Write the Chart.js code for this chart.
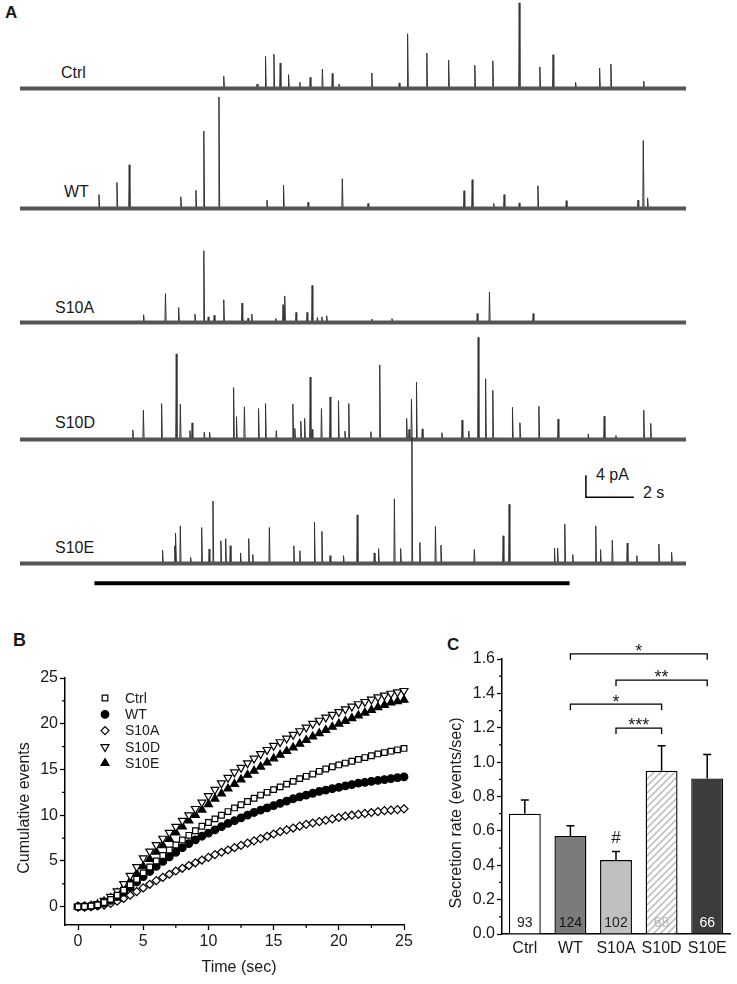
<!DOCTYPE html>
<html>
<head>
<meta charset="utf-8">
<script src="https://cdn.jsdelivr.net/npm/chart.js@4/dist/chart.umd.min.js"></script>
<style>
  body { margin: 0; background: #fff; width: 737px; height: 984px; position: relative; overflow: hidden;
         font-family: 'Liberation Sans', Arial, sans-serif; color: #1a1a1a; }
  canvas { position: absolute; }
  .lbl { position: absolute; font-size: 16px; line-height: 1; white-space: nowrap; }
  .panel { position: absolute; font-size: 17px; font-weight: bold; line-height: 1; }
</style>
</head>
<body>
<div class="panel" style="left:5px;top:4px;">A</div>
<div class="panel" style="left:13px;top:631px;font-size:18px;">B</div>
<div class="panel" style="left:447px;top:636px;">C</div>

<div class="lbl" style="left:61px;top:65px;">Ctrl</div>
<div class="lbl" style="left:64px;top:184px;">WT</div>
<div class="lbl" style="left:55px;top:300px;">S10A</div>
<div class="lbl" style="left:55px;top:415px;">S10D</div>
<div class="lbl" style="left:55px;top:540px;">S10E</div>
<div class="lbl" style="left:596px;top:467px;">4 pA</div>
<div class="lbl" style="left:643px;top:485px;">2 s</div>

<script>
const FONT = "'Liberation Sans', Arial, sans-serif";
const INK = '#1a1a1a';

// ---- panel A: amperometric spikes, [time (s), amplitude (pA)]
const TRACE_END = 27.75;
const CTRL_SPIKES = [[8.49,2.2],[9.88,0.8],[10.23,5.8],[10.58,6.2],[10.84,4.6],[11.19,2.5],[11.66,1.1],
  [12.09,2.0],[12.6,3.5],[13.01,2.7],[13.29,0.8],[14.66,2.8],[15.8,1.0],[16.15,9.9],[16.95,6.4],[17.86,5.1],
  [18.95,4.2],[19.7,5.0],[20.8,15.5],[21.66,3.9],[22.21,6.1],[23.15,1.1],[24.15,3.7],[24.62,4.4],[25.99,1.3]];
const WT_SPIKES = [[3.29,2.5],[4.04,4.7],[4.55,7.9],[6.7,2.1],[7.33,3.3],[7.66,14.0],[8.29,20.2],[10.29,1.5],
  [10.98,4.2],[12.0,1.1],[13.43,5.4],[14.5,0.9],[18.5,3.2],[18.84,5.2],[19.74,0.9],[20.17,2.5],[20.8,1.0],
  [21.58,4.1],[22.76,1.4],[25.75,1.5],[25.97,12.3],[26.15,1.9]];
const S10A_SPIKES = [[5.15,1.4],[6.06,5.2],[6.61,2.7],[7.29,1.5],[7.66,13.0],[7.84,1.0],[8.09,1.3],[8.49,4.1],
  [9.25,3.5],[9.5,0.8],[9.66,1.5],[10.66,0.7],[10.96,3.2],[11.03,4.8],[11.5,1.8],[11.96,1.8],[12.17,6.7],
  [12.39,0.9],[12.58,1.0],[12.78,1.2],[14.66,0.6],[15.5,0.7],[19.05,1.6],[19.56,5.5],[21.38,1.6]];
const S10D_SPIKES = [[4.7,1.7],[5.14,5.3],[5.9,6.5],[6.51,15.5],[6.68,6.4],[7.08,1.6],[7.17,3.0],[7.68,1.3],
  [7.9,1.3],[8.9,9.4],[9.02,4.1],[9.35,5.9],[9.94,5.6],[10.23,6.5],[10.68,1.6],[11.37,6.4],[11.45,2.0],
  [11.7,3.3],[11.86,3.8],[12.09,11.3],[12.17,1.8],[12.56,5.6],[12.92,7.7],[13.27,7.0],[13.54,1.5],[13.7,6.5],
  [14.62,1.4],[14.99,13.5],[16.11,3.8],[16.21,1.8],[16.31,7.3],[16.52,10.4],[16.76,1.9],[17.58,1.2],
  [18.42,3.5],[18.7,1.5],[19.09,18.5],[19.4,11.0],[19.7,8.9],[20.52,5.8],[20.83,3.0],[21.62,6.0],
  [22.42,3.7],[23.68,1.0],[24.34,4.2],[24.83,0.7],[25.99,5.3],[26.28,2.9]];
const S10E_SPIKES = [[5.94,2.4],[6.45,3.2],[6.49,5.5],[6.68,6.8],[7.11,1.1],[7.57,6.5],[7.88,2.6],[8.04,11.3],
  [8.37,4.1],[8.57,4.5],[8.76,3.2],[9.19,1.9],[9.53,4.5],[9.7,1.6],[10.39,6.5],[11.41,3.2],[11.66,2.3],
  [12.27,7.5],[12.58,5.8],[12.92,1.4],[13.48,1.4],[14.05,8.8],[14.76,1.9],[14.94,2.7],[15.6,11.7],
  [15.86,2.7],[16.33,22.9],[16.66,3.8],[17.31,6.7],[17.54,3.3],[18.93,2.5],[20.13,5.0],[20.38,10.7],
  [22.27,2.8],[22.4,2.8],[22.7,7.1],[23.03,1.6],[23.99,6.8],[24.19,2.5],[24.68,4.2],[25.3,3.7],
  [25.7,1.4],[26.62,3.5],[27.15,2.0]];
const TRACES = [CTRL_SPIKES, WT_SPIKES, S10A_SPIKES, S10D_SPIKES, S10E_SPIKES];
const STIM_T = [3.1, 22.9];      // stimulus bar, s
const STIM_LEVEL = -3.6;         // pA below baseline
const BAR_T = [23.58, 25.58];    // 2 s scale bar
const BAR_PA = [12, 16];         // 4 pA scale bar

// ---- panel B: cumulative events
const TIMES = [0,0.5,1,1.5,2,2.5,3,3.5,4,4.5,5,5.5,6,6.5,7,7.5,8,8.5,9,9.5,10,10.5,11,11.5,12,12.5,
  13,13.5,14,14.5,15,15.5,16,16.5,17,17.5,18,18.5,19,19.5,20,20.5,21,21.5,22,22.5,23,23.5,24,24.5,25];
const CTRL_CUM = [0,0.02,0.08,0.2,0.45,0.8,1.25,1.8,2.4,3.0,3.7,4.35,5.0,5.6,6.2,6.75,7.3,7.8,8.3,8.8,
  9.2,9.6,10.0,10.4,10.8,11.15,11.5,11.85,12.2,12.5,12.8,13.1,13.4,13.7,14.0,14.25,14.5,14.8,15.05,15.3,
  15.5,15.7,15.9,16.1,16.3,16.5,16.7,16.85,17.0,17.15,17.3];
const WT_CUM = [0,0.02,0.07,0.18,0.4,0.7,1.1,1.6,2.1,2.7,3.3,3.85,4.4,4.95,5.45,5.95,6.45,6.9,7.3,7.7,
  8.05,8.4,8.75,9.1,9.4,9.7,10.0,10.3,10.55,10.8,11.05,11.3,11.55,11.8,12.0,12.2,12.4,12.6,12.75,12.9,
  13.05,13.2,13.35,13.5,13.6,13.7,13.8,13.9,14.0,14.1,14.2];
const S10A_CUM = [0,0.01,0.03,0.08,0.18,0.35,0.6,0.9,1.25,1.65,2.05,2.45,2.85,3.2,3.55,3.9,4.2,4.5,4.8,5.1,
  5.4,5.7,5.95,6.2,6.45,6.7,6.95,7.2,7.45,7.7,7.95,8.2,8.4,8.6,8.8,9.0,9.15,9.3,9.45,9.6,
  9.75,9.9,10.0,10.1,10.2,10.3,10.4,10.5,10.55,10.62,10.7];
const S10D_CUM = [0,0.02,0.1,0.3,0.65,1.1,1.7,2.5,3.4,4.35,5.3,6.05,6.75,7.45,8.1,8.75,9.4,10.0,10.7,11.4,
  12.1,12.8,13.5,14.1,14.7,15.2,15.7,16.2,16.7,17.15,17.6,18.0,18.4,18.8,19.2,19.6,20.0,20.35,20.7,21.0,
  21.3,21.6,21.9,22.15,22.4,22.65,22.9,23.1,23.3,23.45,23.6];
const S10E_CUM = [0,0.02,0.1,0.25,0.55,0.95,1.5,2.1,2.8,3.6,4.4,5.2,6.0,6.7,7.4,8.1,8.75,9.4,10.0,10.6,
  11.2,11.8,12.35,12.9,13.4,13.9,14.4,14.85,15.3,15.75,16.2,16.6,17.0,17.4,17.8,18.2,18.6,18.95,19.3,19.65,
  20.0,20.3,20.6,20.9,21.2,21.5,21.8,22.05,22.3,22.45,22.6];
const B_X_TICKS = [0,5,10,15,20,25];
const B_Y_TICKS = [0,5,10,15,20,25];

// ---- panel C: secretion rate
const C_GROUPS = ['Ctrl','WT','S10A','S10D','S10E'];
const C_RATE = [0.70, 0.57, 0.43, 0.95, 0.905];
const C_SEM = [0.08, 0.06, 0.05, 0.145, 0.14];
const C_N = ['93','124','102','68','66'];
const C_MARK = ['','','#','',''];
const C_Y_TICKS = [0,0.2,0.4,0.6,0.8,1.0,1.2,1.4,1.6];
const SIG_FROM = [1,2,1,2];
const SIG_TO = [4,4,3,3];
const SIG_Y = [1.63,1.477,1.337,1.198];
const SIG_TEXT = ['*','**','*','***'];

function addCanvas(left, top, w, h) {
  const c = document.createElement('canvas');
  c.width = w; c.height = h;
  c.style.left = left + 'px'; c.style.top = top + 'px';
  document.body.appendChild(c);
  return c;
}

// ---------- panel A ----------
function tracePoints(spikes) {
  const pts = [{x: 0, y: 0}];
  spikes.slice().sort((a, b) => a[0] - b[0]).forEach(([t, h]) => {
    pts.push({x: t - 0.02, y: 0}, {x: t, y: h}, {x: t + 0.03, y: 0});
  });
  pts.push({x: TRACE_END, y: 0});
  return pts;
}

const baselinesPx = [88, 208, 322, 439, 563];
TRACES.forEach((spikes, i) => {
  const c = addCanvas(20, baselinesPx[i] - 132.4, 666, 160);
  const datasets = [
    {data: [{x: 0, y: 0}, {x: TRACE_END, y: 0}], borderColor: '#555', borderWidth: 4},
    {data: tracePoints(spikes), borderColor: '#333', borderWidth: 1}
  ];
  if (i === TRACES.length - 1) {
    datasets.push({data: STIM_T.map(t => ({x: t, y: STIM_LEVEL})), borderColor: '#000', borderWidth: 4});
    datasets.push({data: [{x: BAR_T[0], y: BAR_PA[1]}, {x: BAR_T[0], y: BAR_PA[0]}, {x: BAR_T[1], y: BAR_PA[0]}],
      borderColor: '#000', borderWidth: 1.5});
  }
  datasets.forEach(d => { d.clip = false; d.pointRadius = 0; d.tension = 0; });
  new Chart(c, {
    type: 'line',
    data: {datasets},
    options: {
      responsive: false, animation: false, devicePixelRatio: 1,
      layout: {padding: 0},
      plugins: {legend: {display: false}, tooltip: {enabled: false}},
      scales: {
        x: {type: 'linear', display: false, min: 0, max: TRACE_END},
        y: {type: 'linear', display: false, min: -5, max: 24}
      }
    }
  });
});

// ---------- shared helpers ----------
const textPlugin = {
  id: 'axisText',
  afterDraw(chart, args, opts) {
    const ctx = chart.ctx;
    (opts.items || []).forEach(it => {
      ctx.save();
      ctx.translate(it.x, it.y);
      if (it.rotate) ctx.rotate(-Math.PI / 2);
      ctx.font = '16px ' + FONT;
      ctx.fillStyle = INK;
      ctx.textAlign = 'center';
      ctx.textBaseline = 'middle';
      ctx.fillText(it.text, 0, 0);
      ctx.restore();
    });
  }
};

function minorTicks(chart, axisId, values, len) {
  const s = chart.scales[axisId], ctx = chart.ctx, a = chart.chartArea;
  ctx.save();
  ctx.strokeStyle = '#000'; ctx.lineWidth = 1.2;
  ctx.beginPath();
  values.forEach(v => {
    const p = s.getPixelForValue(v);
    if (axisId === 'x') { ctx.moveTo(p, a.bottom); ctx.lineTo(p, a.bottom + len); }
    else { ctx.moveTo(a.left, p); ctx.lineTo(a.left - len, p); }
  });
  ctx.stroke();
  ctx.restore();
}

function axisOpts(extra) {
  return Object.assign({
    grid: {drawOnChartArea: false, drawTicks: true, tickLength: 5, tickColor: '#000', tickWidth: 1.3},
    border: {display: true, color: '#000', width: 1.5},
    ticks: {color: INK, font: {size: 16, family: FONT}, padding: 2, maxRotation: 0, autoSkip: false}
  }, extra);
}

// ---------- panel B ----------
const bSeries = [
  {label: 'Ctrl', vals: CTRL_CUM, style: 'rect', r: 4, rot: 0, fill: '#fff'},
  {label: 'WT', vals: WT_CUM, style: 'circle', r: 3.8, rot: 0, fill: '#000'},
  {label: 'S10A', vals: S10A_CUM, style: 'rectRot', r: 4, rot: 0, fill: '#fff'},
  {label: 'S10D', vals: S10D_CUM, style: 'triangle', r: 4.6, rot: 180, fill: '#fff'},
  {label: 'S10E', vals: S10E_CUM, style: 'triangle', r: 4.6, rot: 0, fill: '#000'}
];

const bExtras = {
  id: 'bExtras',
  afterDatasetsDraw(chart) {
    minorTicks(chart, 'x', [2.5, 7.5, 12.5, 17.5, 22.5], 3);
    minorTicks(chart, 'y', [2.5, 7.5, 12.5, 17.5, 22.5], 3);
    const ctx = chart.ctx, a = chart.chartArea;
    chart.data.datasets.forEach((ds, i) => {
      const x = a.left + 40, y = a.top + 20 + i * 16.3;
      ctx.save();
      ctx.fillStyle = ds.backgroundColor;
      ctx.strokeStyle = '#000';
      ctx.lineWidth = ds.pointBorderWidth;
      Chart.helpers.drawPoint(ctx, {pointStyle: ds.pointStyle, radius: ds.pointRadius,
        rotation: ds.pointRotation, borderWidth: ds.pointBorderWidth}, x, y);
      ctx.font = '14px ' + FONT;
      ctx.fillStyle = INK;
      ctx.textAlign = 'left';
      ctx.textBaseline = 'middle';
      ctx.fillText(ds.label, x + 20, y + 1);
      ctx.restore();
    });
  }
};

new Chart(addCanvas(0, 600, 420, 384), {
  type: 'scatter',
  data: {
    datasets: bSeries.map(s => ({
      label: s.label,
      data: TIMES.map((t, i) => ({x: t, y: s.vals[i]})),
      pointStyle: s.style, pointRadius: s.r, pointRotation: s.rot,
      backgroundColor: s.fill, borderColor: '#000', pointBorderWidth: 1.2, clip: false
    }))
  },
  options: {
    responsive: false, animation: false, devicePixelRatio: 1,
    layout: {padding: {top: 78, right: 16, left: 0, bottom: 0}},
    plugins: {
      legend: {display: false}, tooltip: {enabled: false},
      axisText: {items: [
        {text: 'Cumulative events', x: 25, y: 208, rotate: true},
        {text: 'Time (sec)', x: 239, y: 368}
      ]}
    },
    scales: {
      x: axisOpts({type: 'linear', min: -1, max: 25,
        afterBuildTicks: s => { s.ticks = B_X_TICKS.map(v => ({value: v})); },
        afterFit: s => { s.height = 59; }}),
      y: axisOpts({type: 'linear', min: -2, max: 25,
        afterBuildTicks: s => { s.ticks = B_Y_TICKS.map(v => ({value: v})); },
        afterFit: s => { s.width = 65; }})
    }
  },
  plugins: [textPlugin, bExtras]
});

// ---------- panel C ----------
function hatchPattern(ctx) {
  const p = document.createElement('canvas');
  p.width = 7; p.height = 7;
  const g = p.getContext('2d');
  g.fillStyle = '#fff'; g.fillRect(0, 0, 7, 7);
  g.strokeStyle = '#b3b3b3'; g.lineWidth = 1.3;
  g.beginPath();
  g.moveTo(-1, 8); g.lineTo(8, -1);
  g.moveTo(-1, 1); g.lineTo(1, -1);
  g.moveTo(6, 8); g.lineTo(8, 6);
  g.stroke();
  return ctx.createPattern(p, 'repeat');
}

const cCanvas = addCanvas(420, 600, 317, 384);
const cFills = ['#ffffff', '#7b7b7b', '#c0c0c0', hatchPattern(cCanvas.getContext('2d')), '#3c3c3c'];
const cNColors = ['#222', '#111', '#222', '#b8b8b8', '#ffffff'];

const cExtras = {
  id: 'cExtras',
  afterDatasetsDraw(chart) {
    const ctx = chart.ctx, y = chart.scales.y, a = chart.chartArea;
    const bars = chart.getDatasetMeta(0).data;
    minorTicks(chart, 'y', [0.1, 0.3, 0.5, 0.7, 0.9, 1.1, 1.3, 1.5], 3);
    ctx.save();
    ctx.strokeStyle = '#000'; ctx.lineWidth = 1.5;
    bars.forEach((b, i) => {
      const top = y.getPixelForValue(C_RATE[i]);
      const err = y.getPixelForValue(C_RATE[i] + C_SEM[i]);
      ctx.beginPath();
      ctx.moveTo(b.x, top); ctx.lineTo(b.x, err);
      ctx.moveTo(b.x - 4, err); ctx.lineTo(b.x + 4, err);
      ctx.stroke();
      ctx.font = '14px ' + FONT;
      ctx.fillStyle = cNColors[i];
      ctx.textAlign = 'center';
      ctx.textBaseline = 'middle';
      ctx.fillText(C_N[i], b.x, a.bottom - 11);
      if (C_MARK[i]) {
        ctx.font = '17px ' + FONT;
        ctx.fillStyle = INK;
        ctx.textBaseline = 'alphabetic';
        ctx.fillText(C_MARK[i], b.x, err - 9);
      }
    });
    ctx.lineWidth = 1.3;
    SIG_Y.forEach((v, k) => {
      const x1 = bars[SIG_FROM[k]].x, x2 = bars[SIG_TO[k]].x, py = y.getPixelForValue(v);
      ctx.beginPath();
      ctx.moveTo(x1, py + 6); ctx.lineTo(x1, py); ctx.lineTo(x2, py); ctx.lineTo(x2, py + 6);
      ctx.stroke();
      ctx.font = '18px ' + FONT;
      ctx.fillStyle = INK;
      ctx.textAlign = 'center';
      ctx.textBaseline = 'alphabetic';
      ctx.fillText(SIG_TEXT[k], (x1 + x2) / 2, py + 3.3);
    });
    ctx.restore();
  }
};

new Chart(cCanvas, {
  type: 'bar',
  data: {
    labels: C_GROUPS,
    datasets: [{data: C_RATE, backgroundColor: cFills, borderColor: '#000', borderWidth: 1.4,
      barPercentage: 0.7, categoryPercentage: 1.0}]
  },
  options: {
    responsive: false, animation: false, devicePixelRatio: 1,
    layout: {padding: {top: 59, right: 7, left: 0, bottom: 0}},
    plugins: {
      legend: {display: false}, tooltip: {enabled: false},
      axisText: {items: [{text: 'Secretion rate (events/sec)', x: 37, y: 213, rotate: true}]}
    },
    scales: {
      x: axisOpts({grid: {display: false, drawTicks: false},
        ticks: {color: INK, font: {size: 16, family: FONT}, padding: 5, maxRotation: 0, autoSkip: false},
        afterFit: s => { s.height = 50; }}),
      y: axisOpts({type: 'linear', min: 0, max: 1.6,
        afterBuildTicks: s => { s.ticks = C_Y_TICKS.map(v => ({value: v})); },
        ticks: {color: INK, font: {size: 16, family: FONT}, padding: 2, callback: v => Number(v).toFixed(1)},
        afterFit: s => { s.width = 82; }})
    }
  },
  plugins: [textPlugin, cExtras]
});
</script>
</body>
</html>
